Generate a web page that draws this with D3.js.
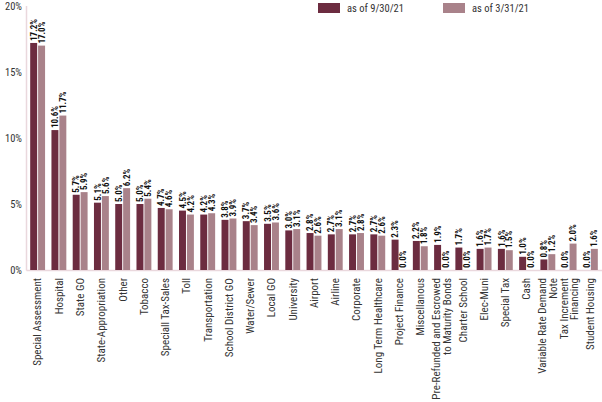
<!DOCTYPE html>
<html><head><meta charset="utf-8">
<script src="https://cdn.jsdelivr.net/npm/d3@7"></script>
<style>
body{margin:0;background:#fff;}
svg text{font-family:"Liberation Sans Narrow","Roboto Condensed","Arial Narrow","Liberation Sans",sans-serif;}
</style></head><body>
<svg id="c" width="602" height="402"></svg>
<script>
const categories = ["Special Assessment","Hospital","State GO","State-Appropriation","Other","Tobacco","Speciall Tax-Sales","Toll","Transportation","School District GO","Water/Sewer","Local GO","University","Airport","Airline","Corporate","Long Term Healthcare","Project Finance","Miscellanous","Pre-Refunded and Escrowed|to Maturity Bonds","Charter School","Elec-Muni","Special Tax","Cash","Variable Rate Demand|Note","Tax Increment|Financing","Student Housing"];
const sept21 = [17.2,10.6,5.7,5.1,5.0,5.0,4.7,4.5,4.2,3.8,3.7,3.5,3.0,2.8,2.7,2.7,2.7,2.3,2.2,1.9,1.7,1.6,1.6,1.0,0.8,0.0,0.0];
const mar21 = [17.0,11.7,5.9,5.6,6.2,5.4,4.6,4.2,4.3,3.9,3.4,3.6,3.1,2.6,3.1,2.8,2.6,0.0,1.8,0.0,0.0,1.7,1.5,0.0,1.2,2.0,1.6];
const seriesNames = ["as of 9/30/21","as of 3/31/21"];
const yTicks = [0,5,10,15,20];
const colors = ["#6c2c40","#a9828a"];

const svg = d3.select("#c");
const x0 = 27, x1 = 601, yTop = 6, yBot = 270;
const x = d3.scaleBand().domain(categories).range([x0,x1]).paddingInner(0.3).paddingOuter(0.15);
const xs = d3.scaleBand().domain([0,1]).range([0,x.bandwidth()]).paddingInner(0.12);
const y = d3.scaleLinear().domain([0,20]).range([yBot,yTop]);

// axes lines
svg.append("line").attr("x1",x0-0.5).attr("x2",x0-0.5).attr("y1",yTop).attr("y2",yBot+0.5).attr("stroke","#ead8dd").attr("stroke-width",1.5);
svg.append("line").attr("x1",x0-0.5).attr("x2",602).attr("y1",yBot+0.5).attr("y2",yBot+0.5).attr("stroke","#ead8dd").attr("stroke-width",1.5);

// y tick labels
svg.append("g").selectAll("text").data(yTicks).join("text")
  .attr("x",22).attr("y",d=>y(d)).attr("dy","0.35em").attr("text-anchor","end")
  .attr("font-size",10.5).attr("fill","#333").text(d=>d+"%");

const data = categories.map((c,i)=>({c, v:[sept21[i],mar21[i]]}));
const g = svg.append("g").selectAll("g").data(data).join("g").attr("transform",d=>`translate(${x(d.c)},0)`);
g.selectAll("rect").data(d=>d.v.map((v,k)=>({v,k}))).join("rect")
  .attr("x",d=>xs(d.k)).attr("width",xs.bandwidth())
  .attr("y",d=>y(d.v)).attr("height",d=>yBot-y(d.v)).attr("fill",d=>colors[d.k]);
g.selectAll("text.val").data(d=>d.v.map((v,k)=>({v,k}))).join("text").attr("class","val")
  .attr("transform",d=>`translate(${xs(d.k)+xs.bandwidth()/2},${y(d.v)-2}) rotate(-90)`)
  .attr("dy","0.35em").attr("text-anchor","start").attr("font-size",9).attr("font-weight","bold").attr("fill","#111")
  .text(d=>d.v.toFixed(1)+"%");

// category labels
const cl = svg.append("g").selectAll("g").data(categories).join("g")
  .attr("transform",d=>`translate(${x(d)+x.bandwidth()/2},${yBot+8}) rotate(-90)`);
cl.each(function(d){
  const parts = d.split("|");
  const n = parts.length;
  d3.select(this).selectAll("text").data(parts).join("text")
    .attr("x",0).attr("y",(p,i)=>(i-(n-1)/2)*10.5).attr("dy","0.35em")
    .attr("text-anchor","end").attr("font-size",11).attr("fill","#333").text(p=>p);
});

// legend
const leg = svg.append("g");
[[318,347],[443,472]].forEach((p,i)=>{
  leg.append("rect").attr("x",p[0]).attr("y",3).attr("width",22).attr("height",10).attr("fill",colors[i]);
  leg.append("text").attr("x",p[1]).attr("y",8).attr("dy","0.35em").attr("font-size",10.5).attr("fill","#333").text(seriesNames[i]);
});
</script></body></html>
